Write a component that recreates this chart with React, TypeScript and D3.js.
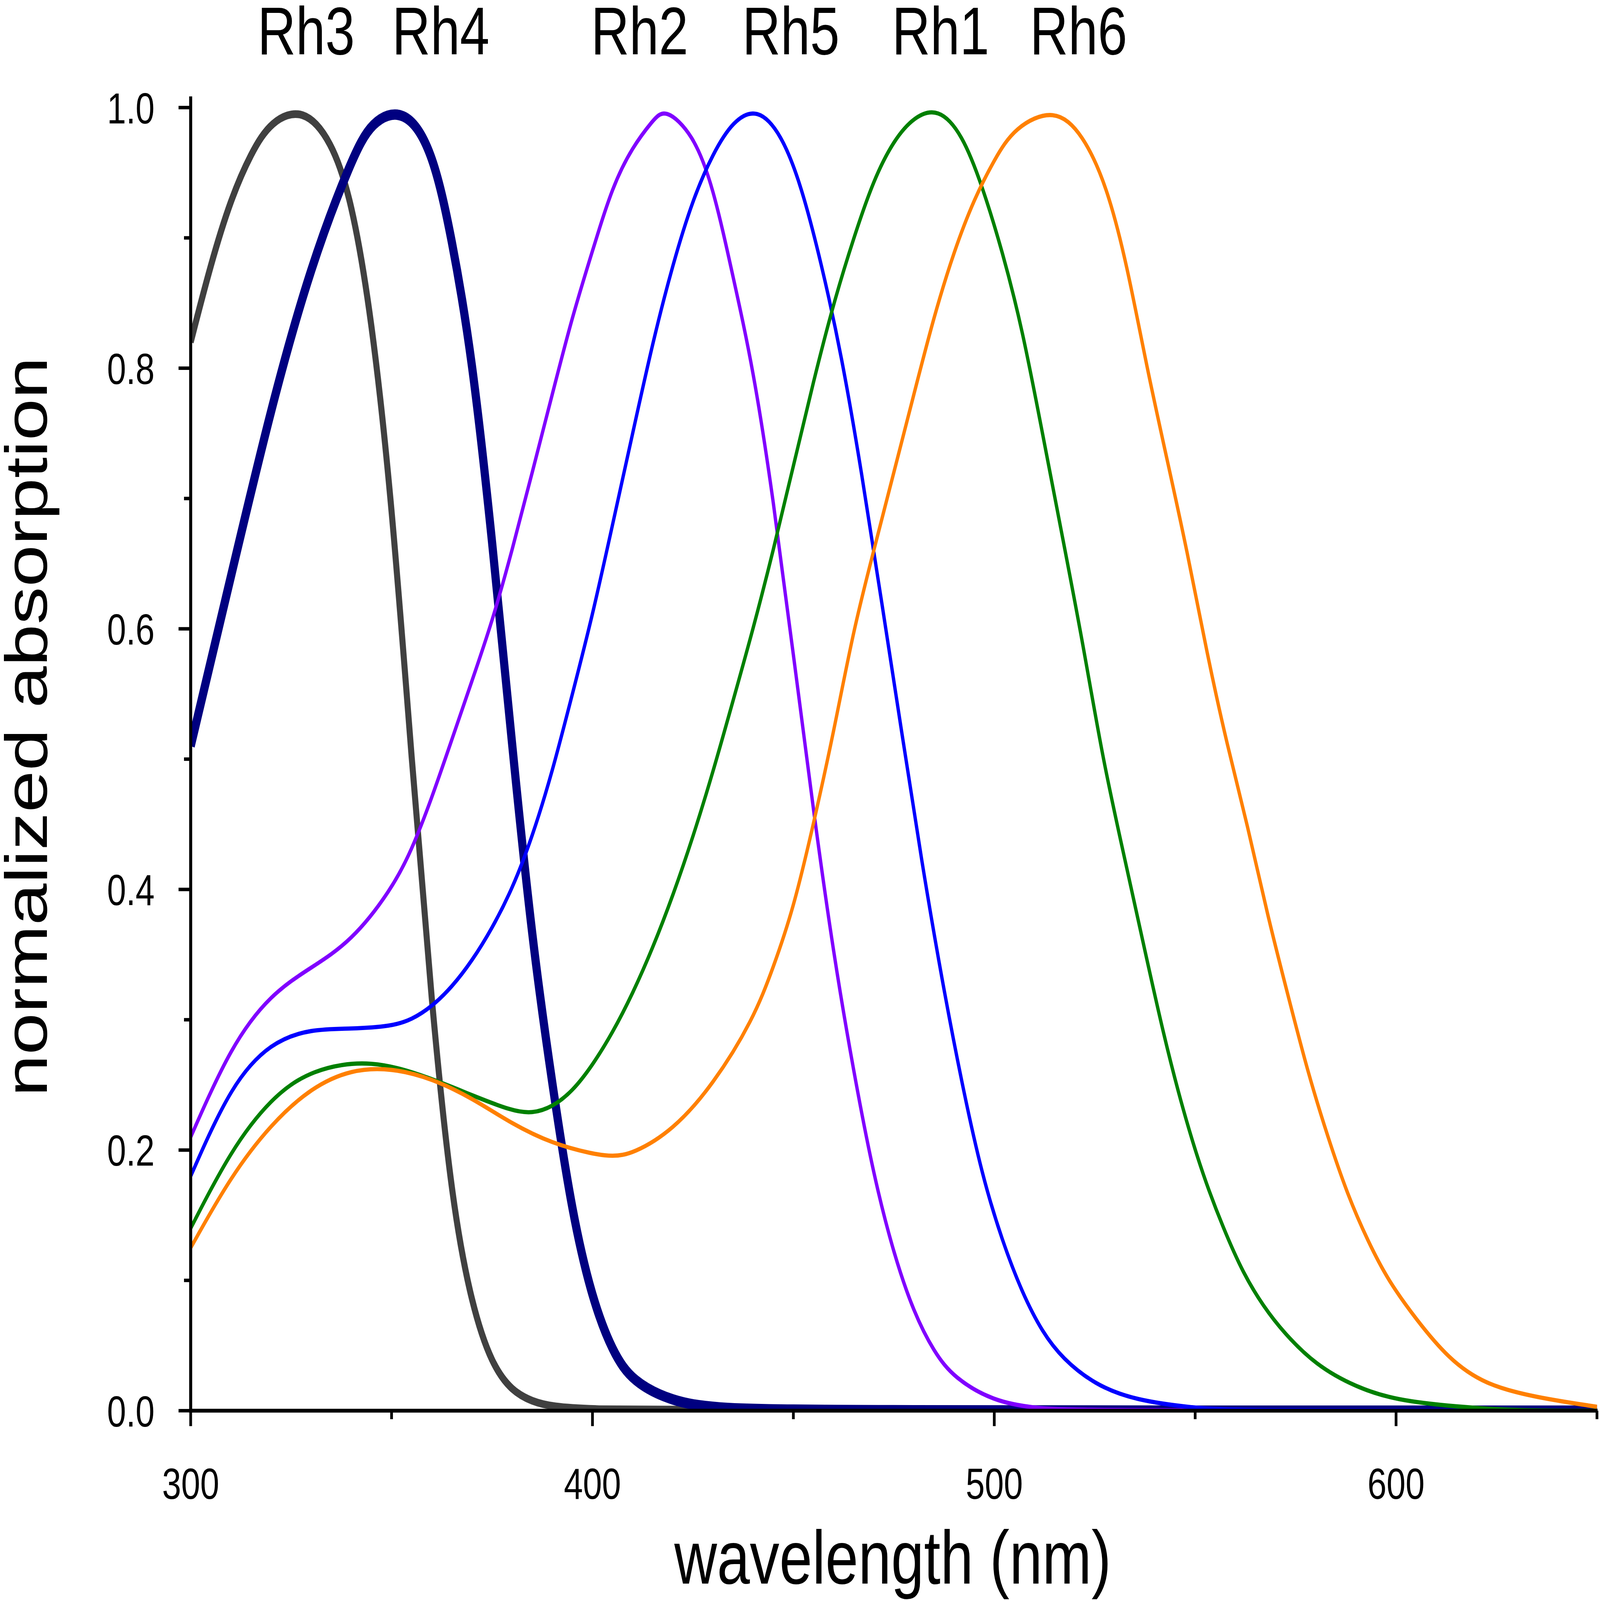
import React from "react";
import * as d3 from "d3";

const rh3: [number, number][] = [[300,0.82],[305,0.88],[310,0.93],[315,0.965],[320,0.99],[328,1.0],[335,0.975],[340,0.93],[345,0.84],[350,0.70],[355,0.50],[360,0.31],[365,0.16],[370,0.08],[375,0.035],[380,0.015],[385,0.007],[390,0.003],[400,0.001],[420,0],[650,0]];
const rh4: [number, number][] = [[300,0.51],[310,0.64],[320,0.77],[330,0.88],[340,0.96],[345,0.99],[353,1.0],[360,0.97],[365,0.9],[370,0.81],[375,0.67],[380,0.51],[385,0.36],[390,0.25],[395,0.15],[400,0.085],[405,0.045],[410,0.022],[420,0.007],[430,0.002],[450,0],[650,0]];
const rh2: [number, number][] = [[300,0.21],[310,0.28],[320,0.32],[330,0.34],[340,0.36],[350,0.40],[355,0.43],[360,0.47],[365,0.515],[370,0.56],[375,0.605],[380,0.66],[385,0.72],[390,0.78],[395,0.84],[400,0.89],[405,0.94],[410,0.97],[415,0.99],[418,1.0],[425,0.98],[430,0.94],[435,0.87],[440,0.80],[445,0.70],[450,0.58],[455,0.46],[460,0.35],[465,0.26],[470,0.18],[475,0.12],[480,0.075],[485,0.045],[490,0.025],[500,0.007],[510,0.002],[520,0],[650,0]];
const rh5: [number, number][] = [[300,0.18],[310,0.25],[320,0.283],[330,0.293],[340,0.293],[350,0.295],[355,0.30],[360,0.31],[365,0.325],[370,0.345],[375,0.37],[380,0.40],[385,0.44],[390,0.49],[395,0.55],[400,0.61],[405,0.68],[410,0.75],[415,0.82],[420,0.88],[425,0.93],[430,0.965],[435,0.99],[441,1.0],[447,0.98],[452,0.94],[457,0.88],[462,0.81],[467,0.72],[472,0.62],[477,0.52],[482,0.42],[487,0.33],[492,0.25],[497,0.18],[502,0.13],[507,0.09],[512,0.06],[517,0.04],[525,0.02],[535,0.008],[550,0.002],[560,0],[650,0]];
const rh1: [number, number][] = [[300,0.14],[310,0.20],[320,0.24],[330,0.262],[345,0.27],[360,0.255],[370,0.242],[380,0.23],[385,0.228],[390,0.233],[395,0.245],[400,0.265],[405,0.29],[410,0.32],[415,0.355],[420,0.395],[425,0.44],[430,0.49],[435,0.545],[440,0.60],[445,0.66],[450,0.725],[455,0.79],[460,0.85],[465,0.90],[470,0.945],[475,0.975],[480,0.993],[486,1.0],[492,0.98],[497,0.94],[502,0.89],[507,0.83],[512,0.75],[517,0.67],[522,0.59],[527,0.50],[532,0.43],[537,0.36],[542,0.29],[547,0.23],[552,0.18],[557,0.14],[562,0.105],[567,0.08],[572,0.06],[580,0.035],[590,0.018],[600,0.008],[615,0.003],[630,0],[650,0]];
const rh6: [number, number][] = [[300,0.125],[310,0.18],[320,0.22],[330,0.248],[340,0.262],[350,0.263],[360,0.255],[370,0.24],[380,0.22],[390,0.205],[400,0.197],[405,0.195],[410,0.197],[420,0.215],[430,0.25],[440,0.30],[445,0.34],[450,0.385],[455,0.45],[460,0.52],[465,0.60],[470,0.66],[475,0.72],[480,0.78],[485,0.84],[490,0.89],[495,0.93],[500,0.96],[505,0.985],[515,1.0],[522,0.98],[528,0.94],[533,0.88],[538,0.80],[543,0.73],[548,0.66],[553,0.58],[558,0.51],[563,0.45],[568,0.38],[573,0.32],[578,0.26],[583,0.21],[588,0.165],[593,0.13],[598,0.10],[605,0.07],[613,0.04],[622,0.02],[635,0.01],[650,0.003]];

const seriesNames = ["Rh3", "Rh4", "Rh2", "Rh5", "Rh1", "Rh6"];
const seriesData = [rh3, rh4, rh2, rh5, rh1, rh6];
const seriesColors = ["#404040", "#000080", "#8000ff", "#0000ff", "#008000", "#ff8000"];
const seriesWidths = [20, 27, 11, 11, 11, 11];
const labelX = [1010, 1454, 2110, 2609, 3103, 3558];
const xTicks = [300, 400, 500, 600];
const yTicks = [0, 0.2, 0.4, 0.6, 0.8, 1.0];

export default function App() {
  const W = 5278, H = 4150;
  const x = d3.scaleLinear().domain([300, 650]).range([629, 5268]);
  const y = d3.scaleLinear().domain([0, 1]).range([3659, 279]);
  const line = d3.line<[number, number]>().x(d => x(d[0])).y(d => y(d[1])).curve(d3.curveBasis);
  const font = "'Liberation Sans', Arial, sans-serif";
  const xMinor = d3.range(350, 651, 100);
  const yMinor = d3.range(0.1, 1, 0.2);
  return (
    <svg viewBox={`0 0 ${W} ${H}`} preserveAspectRatio="none"
      style={{ position: "fixed", left: 0, top: 0, width: "100vw", height: "100vh", background: "#fff" }}>
      <clipPath id="c"><rect x={629} y={150} width={4645} height={3512} /></clipPath>
      <g clipPath="url(#c)">
        {seriesData.map((s, i) => (
          <path key={i} d={line(s) || ""} fill="none" stroke={seriesColors[i]} strokeWidth={seriesWidths[i]} strokeLinejoin="round" />
        ))}
      </g>
      <line x1={629} x2={629} y1={250} y2={3664} stroke="#000" strokeWidth={10} />
      <line x1={624} x2={5270} y1={3659} y2={3659} stroke="#000" strokeWidth={10} />
      {yTicks.map(t => (
        <g key={t}>
          <line x1={589} x2={629} y1={y(t)} y2={y(t)} stroke="#000" strokeWidth={9} />
          <text x={510} y={y(t)} dy="0.36em" textAnchor="end" fontSize={113} fontFamily={font}>{t.toFixed(1)}</text>
        </g>
      ))}
      {yMinor.map(t => <line key={t} x1={607} x2={629} y1={y(t)} y2={y(t)} stroke="#000" strokeWidth={9} />)}
      {xTicks.map(t => (
        <g key={t}>
          <line x1={x(t)} x2={x(t)} y1={3659} y2={3699} stroke="#000" strokeWidth={9} />
          <text x={x(t)} y={3888} textAnchor="middle" fontSize={113} fontFamily={font}>{t}</text>
        </g>
      ))}
      {xMinor.map(t => <line key={t} x1={x(t)} x2={x(t)} y1={3659} y2={3681} stroke="#000" strokeWidth={9} />)}
      {seriesNames.map((n, i) => (
        <text key={n} x={labelX[i]} y={141} textAnchor="middle" fontSize={175} fontFamily={font}>{n}</text>
      ))}
      <text x={2945} y={4107} textAnchor="middle" fontSize={195} fontFamily={font}>wavelength (nm)</text>
      <text transform="translate(155,1885) rotate(-90)" textAnchor="middle" fontSize={195} fontFamily={font}>normalized absorption</text>
    </svg>
  );
}
